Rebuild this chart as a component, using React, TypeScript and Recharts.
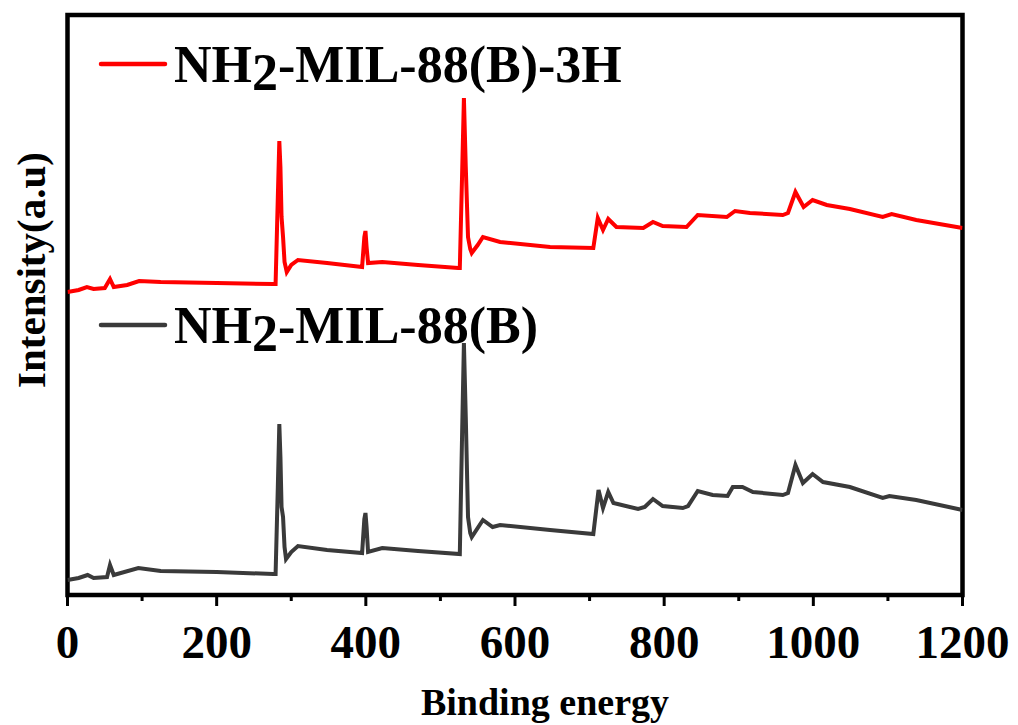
import { LineChart, Line, XAxis, YAxis, ReferenceArea } from "recharts";

// Binding energy (eV) and intensity (a.u.)
const energy3H = [
	0, 15, 26, 35, 50, 57, 62, 80, 96, 125, 200, 276, 279, 282, 284, 285.5, 287,
	289, 291, 294, 300, 309, 348, 395, 398, 399.5, 401, 403, 422, 470, 524, 526,
	529, 531.5, 534, 537, 540, 542, 550, 557, 580, 647, 705, 711, 718, 725, 736,
	772, 785, 798, 830, 845, 884, 895, 915, 959, 966, 976, 987, 999, 1018, 1049,
	1093, 1105, 1138, 1200,
];
const intensity3H = [
	305, 307, 310, 308, 309, 318, 310, 312, 316, 315, 314, 313, 313, 400, 456,
	430, 380, 360, 335, 325, 332, 337, 334, 330, 360, 366, 350, 334, 335, 332,
	329, 329, 420, 499, 430, 360, 348, 344, 352, 360, 355, 350, 349, 379, 367,
	378, 370, 369, 375, 371, 370, 382, 380, 386, 384, 382, 384, 405, 390, 397,
	392, 388, 380, 383, 377, 369,
];

const energyPristine = [
	0, 15, 27, 35, 53, 57, 62, 95, 125, 200, 276, 279, 282, 284, 285.5, 287, 289,
	291, 293, 300, 309, 348, 395, 398, 399.5, 401, 403, 422, 470, 526, 529, 531.5,
	534, 537, 540, 542, 557, 570, 580, 647, 705, 712, 718, 725, 732, 765, 774,
	785, 798, 825, 832, 845, 865, 885, 892, 905, 919, 959, 966, 976, 986, 999,
	1013, 1049, 1093, 1102, 1138, 1200,
];
const intensityPristine = [
	17, 19, 22, 19, 20, 32, 22, 29, 26, 25, 23, 23, 110, 173, 140, 90, 80, 50, 38,
	45, 51, 47, 44, 78, 84, 70, 45, 49, 46, 43, 160, 254, 180, 80, 64, 60, 77, 70,
	72, 67, 63, 107, 89, 105, 94, 88, 90, 98, 91, 89, 91, 106, 102, 101, 110, 110,
	105, 102, 104, 132, 114, 123, 115, 110, 99, 101, 97, 87,
];

const xTicks = [0, 100, 200, 300, 400, 500, 600, 700, 800, 900, 1000, 1100, 1200];

const seriesNames = ["NH", "2", "-MIL-88(B)"];

const toRows = (xs: number[], ys: number[]) =>
	xs.map((x, i) => ({ x, y: ys[i] }));

const serif = "Liberation Serif, Times New Roman, serif";

const BottomTick = (props: any) => {
	const { x, y, payload } = props;
	const major = payload.value % 200 === 0;
	return (
		<g>
			<line
				x1={x}
				x2={x}
				y1={y}
				y2={y + (major ? 11 : 6)}
				stroke="#000"
				strokeWidth={3}
			/>
			{major ? (
				<text
					x={x}
					y={y + 63}
					textAnchor="middle"
					fontFamily={serif}
					fontWeight="bold"
					fontSize={47}
					fill="#000"
				>
					{payload.value}
				</text>
			) : null}
		</g>
	);
};

function LegendEntry(props: { y: number; color: string; suffix: string }) {
	return (
		<g>
			<line
				x1={101}
				x2={165}
				y1={props.y}
				y2={props.y}
				stroke={props.color}
				strokeWidth={4.5}
				strokeLinecap="round"
			/>
			<text
				x={174}
				y={props.y + 18}
				fontFamily={serif}
				fontWeight="bold"
				fontSize={52}
				fill="#000"
			>
				{seriesNames[0]}
				<tspan dy={8}>{seriesNames[1]}</tspan>
				<tspan dy={-8}>
					{seriesNames[2]}
					{props.suffix}
				</tspan>
			</text>
		</g>
	);
}

function App() {
	return (
		<div style={{ position: "absolute", left: 0, top: 0, background: "#fff" }}>
			<LineChart
				width={1018}
				height={725}
				margin={{ top: 15, right: 55.5, bottom: 0, left: 67.5 }}
			>
				<XAxis
					dataKey="x"
					type="number"
					domain={[0, 1200]}
					ticks={xTicks}
					interval={0}
					height={130}
					tickSize={0}
					tickMargin={0}
					tickLine={false}
					tick={<BottomTick />}
					axisLine={false}
					allowDataOverflow
				/>
				<YAxis
					type="number"
					domain={[2, 582]}
					width={0}
					tick={false}
					tickLine={false}
					axisLine={false}
					allowDataOverflow
				/>
				<ReferenceArea
					x1={0}
					x2={1200}
					y1={2}
					y2={582}
					fill="none"
					fillOpacity={0}
					stroke="#000"
					strokeWidth={4.5}
					ifOverflow="visible"
				/>
				<Line
					data={toRows(energyPristine, intensityPristine)}
					dataKey="y"
					type="linear"
					stroke="#3a3a3a"
					strokeWidth={4}
					dot={false}
					isAnimationActive={false}
				/>
				<Line
					data={toRows(energy3H, intensity3H)}
					dataKey="y"
					type="linear"
					stroke="#ff0000"
					strokeWidth={4}
					dot={false}
					isAnimationActive={false}
				/>
				<LegendEntry y={64} color="#ff0000" suffix="-3H" />
				<LegendEntry y={325} color="#3a3a3a" suffix="" />
				<text
					x={545}
					y={715}
					textAnchor="middle"
					fontFamily={serif}
					fontWeight="bold"
					fontSize={38}
					fill="#000"
				>
					Binding energy
				</text>
				<text
					x={0}
					y={0}
					transform="translate(45, 270) rotate(-90)"
					textAnchor="middle"
					fontFamily={serif}
					fontWeight="bold"
					fontSize={41}
					fill="#000"
				>
					Intensity(a.u)
				</text>
			</LineChart>
		</div>
	);
}

export default App;
